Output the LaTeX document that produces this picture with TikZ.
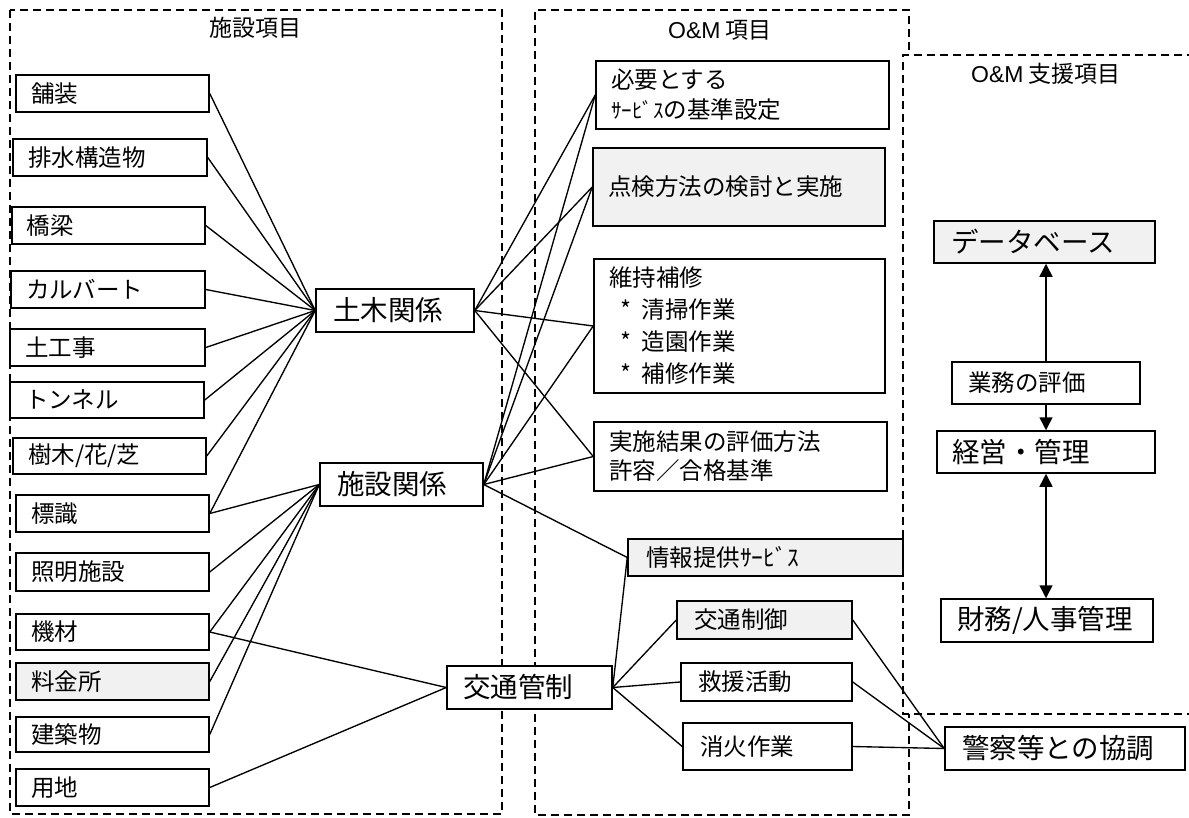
\documentclass[tikz,border=0pt]{standalone}
\usepackage{fontspec}
\setmainfont{Noto Sans CJK JP}
\newfontfamily\lat{Liberation Sans}
\usetikzlibrary{arrows.meta}
\definecolor{boxgray}{HTML}{F1F1F1}
\begin{document}
\begin{tikzpicture}[x=1pt,y=-1pt,
  box/.style={draw, line width=1.5pt, fill=white, inner xsep=15pt, inner ysep=0pt, align=left, font=\fontsize{23.5}{30}\selectfont},
  big/.style={box, font=\fontsize{27.5}{30}\selectfont},
  gray/.style={fill=boxgray},
  conn/.style={line width=1.35pt},
  frame/.style={line width=1.4pt, dash pattern=on 8pt off 5pt},
  arr/.style={line width=1.5pt, -{Triangle[length=13pt,width=13pt]}},
  arrb/.style={line width=1.5pt, {Triangle[length=13pt,width=13pt]}-{Triangle[length=13pt,width=13pt]}},
  title/.style={font=\fontsize{23}{26}\selectfont, inner sep=0pt}
]
\useasboundingbox (0,0) rectangle (1189,817);
% frames
\draw[frame] (10,10) rectangle (502,814);
\draw[frame] (909,50) -- (909,10) -- (535,10) -- (535,815) -- (909,815) -- (909,714);
\draw[frame] (1195,55) -- (903,55) -- (903,714) -- (1195,714);
% titles
\node[title] (t1) at (255,28) {施設項目};
\node[title] (t2) at (720,30) {{\lat O\&M} 項目};
\node[title] (t3) at (1046,74) {{\lat O\&M} 支援項目};
% left column
\node[box, minimum width=193pt, minimum height=37pt, text width=163pt] (hosou) at (112.5,93.5) {舗装};
\node[box, minimum width=194pt, minimum height=37pt, text width=164pt] (haisui) at (110,157.5) {排水構造物};
\node[box, minimum width=193pt, minimum height=37pt, text width=163pt] (kyoryo) at (108.5,225.5) {橋梁};
\node[box, minimum width=194pt, minimum height=37pt, text width=164pt] (culvert) at (108,289.5) {カルバート};
\node[box, minimum width=195pt, minimum height=37pt, text width=165pt] (dokoji) at (107.5,347.5) {土工事};
\node[box, minimum width=194pt, minimum height=36pt, text width=164pt] (tunnel) at (107,400) {トンネル};
\node[box, minimum width=193pt, minimum height=36pt, text width=163pt] (jumoku) at (109.5,456) {樹木/花/芝};
\node[box, minimum width=193pt, minimum height=37pt, text width=163pt] (hyoshiki) at (112.5,513.5) {標識};
\node[box, minimum width=193pt, minimum height=38pt, text width=163pt] (shomei) at (112.5,572) {照明施設};
\node[box, minimum width=193pt, minimum height=36pt, text width=163pt] (kizai) at (112.5,632) {機材};
\node[box, gray, minimum width=193pt, minimum height=37pt, text width=163pt] (ryokin) at (112.5,681.5) {料金所};
\node[box, minimum width=193pt, minimum height=35pt, text width=163pt] (kenchiku) at (112.5,734.5) {建築物};
\node[box, minimum width=193pt, minimum height=37pt, text width=163pt] (yochi) at (112.5,787.5) {用地};
% hubs
\node[big, inner xsep=17pt, minimum width=158pt, minimum height=43pt, text width=124pt] (doboku) at (395,310.5) {土木関係};
\node[big, inner xsep=17pt, minimum width=163pt, minimum height=43pt, text width=129pt] (shisetsu) at (401.5,484.5) {施設関係};
\node[big, inner xsep=16pt, minimum width=165pt, minimum height=43pt, text width=133pt] (kanri) at (529.5,687.5) {交通管制};
% O&M items
\node[box, minimum width=293pt, minimum height=68pt, text width=263pt] (hitsuyo) at (742.5,95) {必要とする\\{\fontsize{21}{30}\selectfont ｻｰﾋﾞｽ}の基準設定};
\node[box, gray, minimum width=292pt, minimum height=78pt, text width=262pt] (tenken) at (739,187) {点検方法の検討と実施};
\node[box, minimum width=291pt, minimum height=134pt, text width=261pt, font=\fontsize{23.5}{32}\selectfont] (iji) at (739.5,326) {維持補修\\\hspace*{11pt}*\hspace{11pt}清掃作業\\\hspace*{11pt}*\hspace{11pt}造園作業\\\hspace*{11pt}*\hspace{11pt}補修作業};
\node[box, minimum width=293pt, minimum height=69pt, text width=263pt, font=\fontsize{23.5}{29}\selectfont] (jisshi) at (740.5,456.5) {実施結果の評価方法\\許容／合格基準};
\node[box, gray, inner xsep=18pt, minimum width=275pt, minimum height=37pt, text width=239pt] (joho) at (765.5,557.5) {情報提供ｻｰﾋﾞｽ};
\node[box, gray, inner xsep=17pt, minimum width=175pt, minimum height=38pt, text width=141pt] (seigyo) at (764.5,620) {交通制御};
\node[box, inner xsep=17pt, minimum width=171pt, minimum height=38pt, text width=137pt] (kyuen) at (766.5,682) {救援活動};
\node[box, inner xsep=17pt, minimum width=169pt, minimum height=47pt, text width=135pt] (shoka) at (767.5,746.5) {消火作業};
% support items
\node[big, gray, inner xsep=17pt, minimum width=221pt, minimum height=42pt, text width=187pt] (db) at (1044.5,242) {データベース};
\node[box, inner xsep=16pt, minimum width=188pt, minimum height=42pt, text width=156pt] (gyomu) at (1046,383) {業務の評価};
\node[big, inner xsep=15pt, minimum width=218pt, minimum height=42pt, text width=188pt] (keiei) at (1046,452) {経営・管理};
\node[big, inner xsep=16pt, minimum width=212pt, minimum height=43pt, text width=180pt] (zaimu) at (1047,620.5) {財務/人事管理};
\node[big, inner xsep=17pt, minimum width=240pt, minimum height=43pt, text width=206pt] (keisatsu) at (1065,748.5) {警察等との協調};
% connectors: left -> hubs
\foreach \n in {hosou,haisui,kyoryo,culvert,dokoji,tunnel,jumoku,hyoshiki}
  \draw[conn] (\n.east) -- (doboku.west);
\foreach \n in {hyoshiki,shomei,kizai,ryokin,kenchiku}
  \draw[conn] (\n.east) -- (shisetsu.west);
\draw[conn] (kizai.east) -- (kanri.west);
\draw[conn] (yochi.east) -- (kanri.west);
% hubs -> O&M items
\foreach \n in {hitsuyo,tenken,iji,jisshi}
  \draw[conn] (doboku.east) -- (\n.west);
\foreach \n in {hitsuyo,tenken,iji,jisshi,joho}
  \draw[conn] (shisetsu.east) -- (\n.west);
\foreach \n in {joho,seigyo,kyuen,shoka}
  \draw[conn] (kanri.east) -- (\n.west);
\foreach \n in {seigyo,kyuen,shoka}
  \draw[conn] (\n.east) -- (keisatsu.west);
% arrows
\draw[arr] (gyomu.north) -- (gyomu.north |- db.south);
\draw[arr] (gyomu.south) -- (gyomu.south |- keiei.north);
\draw[arrb] (keiei.south) -- (keiei.south |- zaimu.north);
\end{tikzpicture}
\end{document}
